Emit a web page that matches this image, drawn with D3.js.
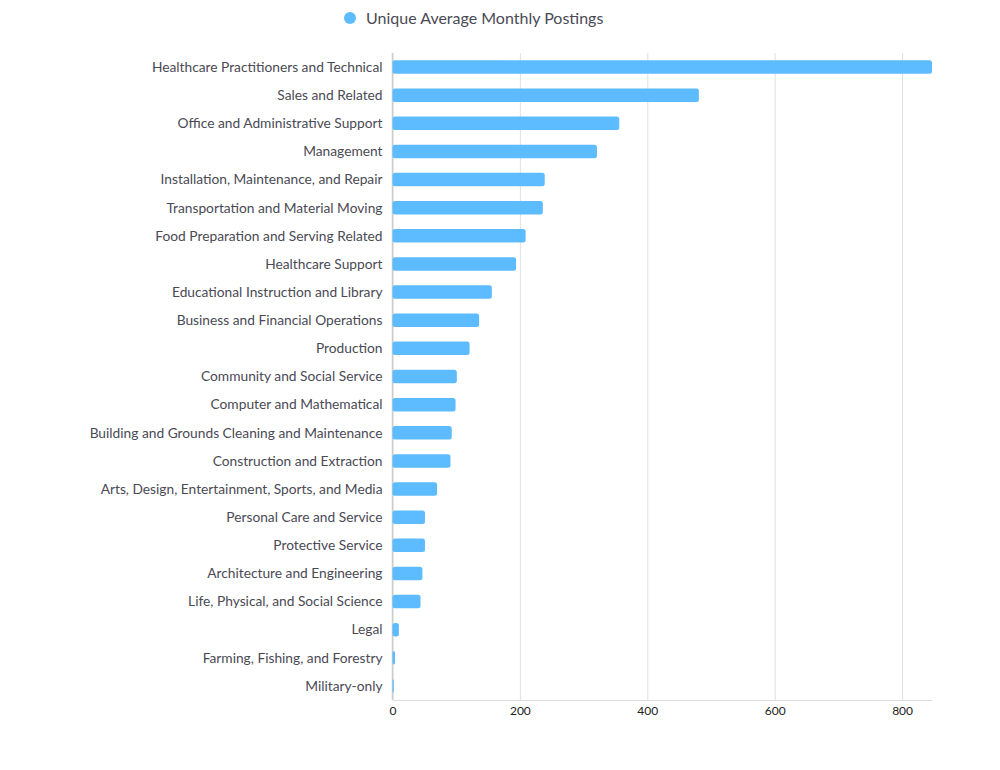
<!DOCTYPE html>
<html>
<head>
<meta charset="utf-8">
<title>Unique Average Monthly Postings</title>
<script src="https://d3js.org/d3.v7.min.js"></script>
<style>
  body { margin: 0; background: #fff; font-family: Lato, "Open Sans", sans-serif; }
  .grid line { stroke: #e0e0e0; }
  .grid .domain { display: none; }
  .x-axis text { fill: #222; font-size: 12px; }
  .x-axis line { display: none; }
  .x-axis .domain { stroke: #ddd; }
  .cat { fill: #4a4a55; font-size: 13.75px; }
</style>
</head>
<body>
<div id="chart"></div>
<script>
// occupations, sorted by postings
const categories = [
  "Healthcare Practitioners and Technical",
  "Sales and Related",
  "Office and Administrative Support",
  "Management",
  "Installation, Maintenance, and Repair",
  "Transportation and Material Moving",
  "Food Preparation and Serving Related",
  "Healthcare Support",
  "Educational Instruction and Library",
  "Business and Financial Operations",
  "Production",
  "Community and Social Service",
  "Computer and Mathematical",
  "Building and Grounds Cleaning and Maintenance",
  "Construction and Extraction",
  "Arts, Design, Entertainment, Sports, and Media",
  "Personal Care and Service",
  "Protective Service",
  "Architecture and Engineering",
  "Life, Physical, and Social Science",
  "Legal",
  "Farming, Fishing, and Forestry",
  "Military-only"
];
const postings = [847, 481, 356, 321, 239, 236, 209, 194, 156, 136, 121, 101, 99, 93, 91, 70, 51, 51, 47, 44, 10, 4, 2];
const xTicks = [0, 200, 400, 600, 800];
const seriesName = "Unique Average Monthly Postings";

const width = 1000, height = 770;
const margin = {top: 53, right: 68, bottom: 70, left: 392.5};
const w = width - margin.left - margin.right;
const h = height - margin.top - margin.bottom;

const svg = d3.select("#chart").append("svg")
    .attr("width", width)
    .attr("height", height);

// legend
const legend = svg.append("g").attr("transform", "translate(350,18)");
legend.append("circle").attr("r", 6).attr("fill", "#5cbcff");
legend.append("text")
    .attr("x", 16).attr("dy", "0.35em")
    .style("font-size", "16px").style("fill", "#4a4a55")
    .text(seriesName);

const g = svg.append("g")
    .attr("transform", "translate(" + margin.left + "," + margin.top + ")");

const x = d3.scaleLinear().domain([0, d3.max(postings)]).range([0, w]);
const y = d3.scaleBand().domain(categories).range([0, h]).paddingInner(0.52).paddingOuter(0.26);

// gridlines
g.append("g").attr("class", "grid")
    .call(d3.axisBottom(x).tickValues(xTicks).tickSize(h).tickFormat(""));

// zero line
g.append("line")
    .attr("x1", x(0)).attr("x2", x(0))
    .attr("y1", 0).attr("y2", h)
    .attr("stroke", "#ccc").attr("stroke-width", 1.5);

// bars
g.selectAll("rect.bar")
    .data(postings)
    .enter().append("rect")
    .attr("class", "bar")
    .attr("x", x(0))
    .attr("y", (d, i) => y(categories[i]))
    .attr("width", d => x(d) - x(0))
    .attr("height", y.bandwidth())
    .attr("rx", 2.5)
    .attr("fill", "#5cbcff");

// category labels
g.selectAll("text.cat")
    .data(categories)
    .enter().append("text")
    .attr("class", "cat")
    .attr("x", -10)
    .attr("y", d => y(d) + y.bandwidth() / 2)
    .attr("dy", "0.35em")
    .attr("text-anchor", "end")
    .text(d => d);

// x axis
const xAxis = g.append("g").attr("class", "x-axis")
    .attr("transform", "translate(0," + h + ")")
    .call(d3.axisBottom(x).tickValues(xTicks).tickSize(0).tickPadding(6));
xAxis.selectAll("text").style("font-family", "Lato, sans-serif");
</script>
</body>
</html>
